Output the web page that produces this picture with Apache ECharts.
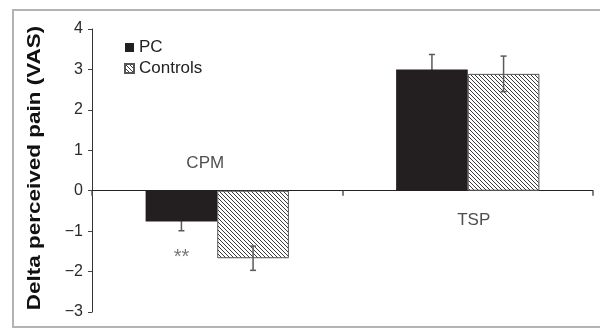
<!DOCTYPE html>
<html>
<head>
<meta charset="utf-8">
<script src="https://cdn.jsdelivr.net/npm/echarts@6/dist/echarts.min.js"></script>
<style>html,body{margin:0;padding:0;background:#fff}#c{width:600px;height:329px}</style>
</head>
<body>
<div id="c"></div>
<script>
var categories = ['CPM', 'TSP'];
var pcMeans = [-0.76, 3.00];
var pcErr = [0.23, 0.37];
var ctrlMeans = [-1.67, 2.89];
var ctrlErr = [0.30, 0.44];
var catLabelValues = [0.68, -0.74];
var sigMarkValue = -1.55;
var sigMarkText = '**';
var yMin = -3, yMax = 4, yInterval = 1;
var yTitle = 'Delta perceived pain (VAS)';
var seriesNames = ['PC', 'Controls'];

var FONT = '"Liberation Sans", Arial, sans-serif';
var BAR_FRAC = 0.286;

function hatch() {
  var c = document.createElement('canvas');
  c.width = 4; c.height = 4;
  var g = c.getContext('2d');
  g.fillStyle = '#ffffff';
  g.fillRect(0, 0, 4, 4);
  g.strokeStyle = '#3a3a3a';
  g.lineWidth = 1;
  g.beginPath();
  g.moveTo(-1, -1); g.lineTo(5, 5);
  g.moveTo(-1, 3); g.lineTo(1, 5);
  g.moveTo(3, -1); g.lineTo(5, 1);
  g.stroke();
  return c;
}

function errRender(sign) {
  return function (params, api) {
    var bw = api.size([1, 0])[0];
    var off = sign * bw * BAR_FRAC / 2;
    var ci = api.value(0);
    var lo = api.coord([ci, api.value(1) - api.value(2)]);
    var hi = api.coord([ci, api.value(1) + api.value(2)]);
    var x = lo[0] + off;
    var cap = 3;
    var st = { stroke: '#5a5a5a', lineWidth: 1.5 };
    return {
      type: 'group',
      children: [
        { type: 'line', shape: { x1: x, y1: lo[1], x2: x, y2: hi[1] }, style: st },
        { type: 'line', shape: { x1: x - cap, y1: lo[1], x2: x + cap, y2: lo[1] }, style: st },
        { type: 'line', shape: { x1: x - cap, y1: hi[1], x2: x + cap, y2: hi[1] }, style: st }
      ]
    };
  };
}

var chart = echarts.init(document.getElementById('c'), null, { renderer: 'canvas' });
var pattern = { image: hatch(), repeat: 'repeat' };

var option = {
  animation: false,
  backgroundColor: '#ffffff',
  textStyle: { fontFamily: FONT },
  grid: { left: 92, right: 7, top: 29, bottom: 17, containLabel: false },
  legend: {
    data: seriesNames,
    orient: 'vertical',
    left: 119, top: 34,
    itemWidth: 9, itemHeight: 9, itemGap: 4,
    icon: 'rect',
    textStyle: { fontSize: 17, color: '#222', fontFamily: FONT },
    selectedMode: false
  },
  xAxis: {
    type: 'category',
    data: categories,
    axisLine: { onZero: true, lineStyle: { color: '#222', width: 1 } },
    axisTick: { show: true, length: 5, lineStyle: { color: '#555', width: 1.5 } },
    axisLabel: { show: false },
    splitLine: { show: false }
  },
  yAxis: {
    type: 'value',
    min: yMin, max: yMax, interval: yInterval,
    axisLine: { show: true, lineStyle: { color: '#333', width: 1 } },
    axisTick: { show: true, length: 4, lineStyle: { color: '#444' } },
    splitLine: { show: false },
    axisLabel: {
      fontSize: 16, color: '#2a2a2a', margin: 9, fontFamily: FONT,
      formatter: function (v) { return String(v).replace('-', '\u2212'); }
    }
  },
  series: [
    {
      name: 'PC', type: 'bar', data: pcMeans,
      barWidth: (BAR_FRAC * 100) + '%', barGap: '0%', z: 3,
      itemStyle: { color: '#231f20', borderColor: '#231f20', borderWidth: 0 }
    },
    {
      name: 'Controls', type: 'bar', data: ctrlMeans,
      barWidth: (BAR_FRAC * 100) + '%', barGap: '0%', z: 3,
      itemStyle: { color: pattern, borderColor: '#555', borderWidth: 1 }
    },
    {
      type: 'custom', name: 'pcErr', z: 2,
      renderItem: errRender(-1),
      data: categories.map(function (c, i) { return [i, pcMeans[i], pcErr[i]]; })
    },
    {
      type: 'custom', name: 'ctrlErr', z: 4,
      renderItem: errRender(1),
      data: categories.map(function (c, i) { return [i, ctrlMeans[i], ctrlErr[i]]; })
    },
    {
      type: 'scatter', name: 'catLabels', symbolSize: 0, z: 5,
      data: categories.map(function (c, i) {
        return { value: [c, catLabelValues[i]], name: c,
          label: { offset: [i === 0 ? -12 : 6, 0] } };
      }),
      label: {
        show: true, position: 'inside', formatter: '{b}',
        fontSize: 17, color: '#222', fontFamily: FONT
      }
    },
    {
      type: 'scatter', name: 'sig', symbolSize: 0, z: 5,
      data: [{ value: [categories[0], sigMarkValue], name: sigMarkText }],
      label: {
        show: true, position: 'inside', formatter: '{b}',
        offset: [-35.7, 4], fontSize: 20, color: '#555', fontFamily: FONT
      }
    }
  ],
  graphic: [
    {
      type: 'rect', silent: true, z: 0,
      shape: { x: 13, y: 10, width: 640, height: 317 },
      style: { fill: 'none', stroke: '#b3b3b3', lineWidth: 2 }
    },
    {
      type: 'text', silent: true,
      x: 35, y: 168, rotation: Math.PI / 2, scaleX: 1.25,
      style: {
        text: yTitle, fontSize: 18, fontWeight: 'bold', fontFamily: FONT,
        fill: '#111', align: 'center', verticalAlign: 'middle'
      }
    }
  ]
};
chart.setOption(option);
</script>
</body>
</html>
